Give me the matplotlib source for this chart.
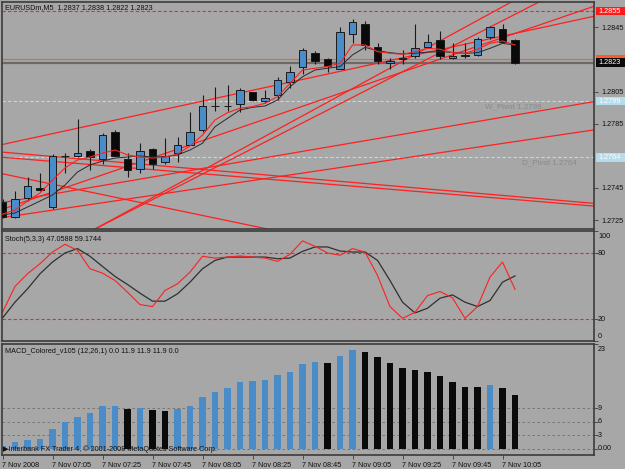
import numpy as np
import matplotlib.pyplot as plt
from matplotlib.patches import Rectangle

plt.rcParams['font.family'] = ['Liberation Sans', 'DejaVu Sans']

# EURUSDm M5 candles, 7 Nov 2008 06:45 .. 10:10
opens = [1.2736, 1.2727, 1.2739, 1.2745, 1.2733, 1.2765, 1.2765, 1.2768, 1.2763, 1.2780,
         1.2763, 1.2757, 1.2769, 1.2761, 1.2767, 1.2772, 1.2781, 1.2796, 1.2796, 1.2797,
         1.2805, 1.2799, 1.2803, 1.2811, 1.2820, 1.2829, 1.2825, 1.2819, 1.2841, 1.2847,
         1.2833, 1.2823, 1.2825, 1.2827, 1.2833, 1.2837, 1.2826, 1.2828, 1.2828, 1.2839,
         1.2844, 1.2837]
highs = [1.2738, 1.2743, 1.2752, 1.2754, 1.2766, 1.2767, 1.2788, 1.2769, 1.2779, 1.2781,
         1.2767, 1.2773, 1.2770, 1.2776, 1.2777, 1.2792, 1.2803, 1.2808, 1.2809, 1.2807,
         1.2805, 1.2806, 1.2814, 1.2821, 1.2832, 1.2830, 1.2826, 1.2845, 1.2850, 1.2849,
         1.2835, 1.2826, 1.2831, 1.2847, 1.2841, 1.2843, 1.2835, 1.2835, 1.2839, 1.2846,
         1.2847, 1.2838]
lows = [1.2726, 1.2726, 1.2737, 1.2743, 1.2732, 1.2754, 1.2764, 1.2756, 1.2760, 1.2764,
        1.2752, 1.2754, 1.2757, 1.2760, 1.2761, 1.2772, 1.2780, 1.2793, 1.2793, 1.2792,
        1.2799, 1.2798, 1.2800, 1.2807, 1.2816, 1.2822, 1.2817, 1.2819, 1.2835, 1.2831,
        1.2822, 1.2819, 1.2822, 1.2826, 1.2832, 1.2825, 1.2825, 1.2826, 1.2827, 1.2838,
        1.2835, 1.2822]
closes = [1.2727, 1.2738, 1.2746, 1.2744, 1.2765, 1.2765, 1.2767, 1.2764, 1.2778, 1.2765,
          1.2756, 1.2768, 1.2760, 1.2765, 1.2772, 1.2780, 1.2796, 1.2796, 1.2796, 1.2806,
          1.2800, 1.2801, 1.2812, 1.2817, 1.2831, 1.2824, 1.2821, 1.2842, 1.2848, 1.2834,
          1.2824, 1.2824, 1.2826, 1.2832, 1.2836, 1.2827, 1.2827, 1.2827, 1.2838, 1.2845,
          1.2836, 1.2823]

# moving averages (red fast, black slow)
ma_fast = [1.27287, 1.27312, 1.27368, 1.27418, 1.27499, 1.27574, 1.27624, 1.27642, 1.27667, 1.27686,
           1.27655, 1.27642, 1.27636, 1.27642, 1.27661, 1.27711, 1.27779, 1.27873, 1.27918, 1.27946,
           1.27956, 1.27977, 1.28018, 1.28101, 1.28184, 1.28195, 1.28205, 1.28226, 1.28340, 1.28340,
           1.28298, 1.28288, 1.28282, 1.28298, 1.28319, 1.28313, 1.28292, 1.28288, 1.28313, 1.28350,
           1.28365, 1.28340]
ma_slow = [1.27281, 1.27294, 1.27331, 1.27368, 1.27406, 1.27468, 1.27549, 1.27593, 1.27617, 1.27636,
           1.27642, 1.27649, 1.27642, 1.27644, 1.27655, 1.27686, 1.27728, 1.27831, 1.27883, 1.27935,
           1.27952, 1.27960, 1.27997, 1.28080, 1.28142, 1.28184, 1.28195, 1.28205, 1.28278, 1.28325,
           1.28304, 1.28292, 1.28284, 1.28288, 1.28296, 1.28298, 1.28294, 1.28288, 1.28292, 1.28319,
           1.28350, 1.28340]

# trendlines: (bar1, price1, bar2, price2)
trend_lines = [(-0.2, 1.27717, 47.4, 1.28520),
               (-0.2, 1.27356, 47.3, 1.27987),
               (-0.2, 1.27263, 47.3, 1.27811),
               (-0.2, 1.27674, 47.3, 1.27354),
               (-0.2, 1.27642, 47.3, 1.27337),
               (7.4, 1.27194, 43.24, 1.28620),
               (7.4, 1.27194, 41.0, 1.28620),
               (-0.2, 1.27312, 47.4, 1.28583),
               (-0.2, 1.27541, 21.2, 1.27194)]

pivot_names = ['W_Pivot 1.2799', 'D_Pivot 1.2764']
pivot_levels = [1.2799, 1.2764]
pivot_label_bar = [38.6, 41.6]
alert_level = 1.2855
order_level = 1.2825
bid = 1.2823

price_ticks = [1.2845, 1.2805, 1.2785, 1.2745, 1.2725]

# Stochastic (5,3,3)
stoch_main = [26.1, 49.6, 61.1, 70.3, 80.9, 87.9, 82.4, 65.7, 61.7, 55.0,
              44.4, 33.1, 31.3, 45.9, 52.0, 62.6, 77.0, 75.4, 76.3, 77.3,
              76.3, 75.4, 72.4, 78.8, 91.0, 86.1, 80.0, 77.9, 84.0, 80.9,
              59.6, 31.3, 20.6, 26.1, 41.3, 45.0, 39.2, 20.6, 31.3, 58.1,
              71.8, 47.06]
stoch_signal = [20.9, 35.3, 47.4, 61.1, 71.8, 80.0, 84.0, 77.0, 67.8, 58.7,
                51.4, 43.5, 36.2, 36.2, 42.9, 53.5, 65.7, 73.3, 76.3, 76.3,
                76.3, 76.3, 74.8, 75.4, 81.5, 85.5, 85.5, 81.8, 80.9, 80.9,
                73.3, 55.0, 35.3, 25.5, 29.8, 38.9, 41.9, 35.3, 31.3, 36.8,
                53.5, 59.17]

# MACD_Colored histogram
macd = [0.7, 1.6, 2.0, 2.2, 4.3, 5.9, 7.0, 8.0, 9.5, 9.5,
        8.8, 9.0, 8.6, 8.4, 8.8, 9.5, 11.4, 12.6, 13.4, 14.8,
        15.0, 15.2, 16.3, 17.0, 18.7, 19.1, 19.0, 20.4, 21.8, 21.4,
        20.3, 19.0, 17.9, 17.4, 17.0, 16.0, 14.8, 13.7, 13.6, 14.0,
        13.4, 11.9]

time_labels = ['7 Nov 2008', '7 Nov 07:05', '7 Nov 07:25', '7 Nov 07:45', '7 Nov 08:05',
               '7 Nov 08:25', '7 Nov 08:45', '7 Nov 09:05', '7 Nov 09:25', '7 Nov 09:45',
               '7 Nov 10:05']

BG = '#a7a7a7'
FRAME = '#3c3c3c'
BLUE = '#4a8cc8'
RED = '#ff2020'
FS = 5.2

fig = plt.figure(figsize=(6.25, 4.69), dpi=100, facecolor=BG)
W, H = 625.0, 469.0
L, R = 2, 594
ax = fig.add_axes([L / W, 1 - 229 / H, (R - L) / W, 227 / H])
ax2 = fig.add_axes([L / W, 1 - 341 / H, (R - L) / W, 110 / H])
ax3 = fig.add_axes([L / W, 1 - 455 / H, (R - L) / W, 111 / H])

xlim = ((L - 2.5) / 12.5, (R - 2.5) / 12.5)
for a in (ax, ax2, ax3):
    a.set_facecolor(BG)
    a.set_xlim(*xlim)
    for s in a.spines.values():
        s.set_color(FRAME)
        s.set_linewidth(1.2)
    a.yaxis.tick_right()
    a.tick_params(axis='y', length=3, width=0.6, color=FRAME, pad=2, labelsize=FS)
    a.tick_params(axis='x', bottom=False, labelbottom=False)

n = len(opens)
idx = np.arange(n)
o = np.array(opens)
c = np.array(closes)
hi = np.array(highs)
lo = np.array(lows)

# ---- main price panel
ax.set_ylim(1.271941, 1.286075)
ax.axhline(alert_level, color=RED, lw=0.8, ls=(0, (3, 2)), zorder=1)
for lv in pivot_levels:
    ax.axhline(lv, color='#b8dcea', lw=0.8, ls=(0, (3, 2)), zorder=1)
for name, lv, bx in zip(pivot_names, pivot_levels, pivot_label_bar):
    ax.annotate(name, xy=(bx, lv), xytext=(0, -2), textcoords='offset pixels',
                color='#8a8a8a', fontsize=5.8, va='top', ha='left', zorder=1)
ax.axhline(order_level, color='#ff5a2a', lw=0.8, zorder=1)
ax.axhline(bid, color='#6a6a6a', lw=1.6, zorder=1)

for x1, p1, x2, p2 in trend_lines:
    ax.plot([x1, x2], [p1, p2], color=RED, lw=0.9, zorder=2)

ax.plot(idx, ma_slow, color='#2a2a2a', lw=0.7, zorder=4)
ax.plot(idx, ma_fast, color=RED, lw=0.8, zorder=4)

ax.vlines(idx, lo, hi, color='#1a1a1a', lw=0.8, zorder=3)
up = c >= o
ax.bar(idx[up], (c - o)[up], bottom=o[up], width=0.6, color=BLUE,
       edgecolor='#1a1a1a', linewidth=0.7, zorder=3)
ax.bar(idx[~up], (o - c)[~up], bottom=c[~up], width=0.6, color='#0a0a0a',
       edgecolor='#1a1a1a', linewidth=0.7, zorder=3)

ax.set_yticks(price_ticks)
ax.set_yticklabels(['%.4f' % p for p in price_ticks], color='#101010')

# price boxes on the right scale (the order box sits under the bid box)
yt = ax.get_yaxis_transform()
bh = 0.00052
boxes = [(alert_level, '#ff1a1a', True), (order_level, '#ff5a2a', False), (bid, '#0a0a0a', True),
         (pivot_levels[0], '#b4dcea', True), (pivot_levels[1], '#b4dcea', True)]
for k, (lv, fc, show) in enumerate(boxes):
    z = 5 + k * 0.2
    ax.add_patch(Rectangle((1.003, lv - bh / 2), 0.05, bh, transform=yt, facecolor=fc,
                           edgecolor='none', clip_on=False, zorder=z))
    if show:
        ax.text(1.008, lv, '%.4f' % lv, transform=yt, color='white', fontsize=FS,
                va='center', ha='left', clip_on=False, zorder=z + 0.1)

ax.text(3 / (R - L), 1 - 5.5 / 227, 'EURUSDm,M5  1.2837 1.2838 1.2822 1.2823',
        transform=ax.transAxes, fontsize=FS, color='#101010', va='center', ha='left')

# ---- stochastic panel
ax2.set_ylim(0, 100)
for lv in (80, 20):
    ax2.axhline(lv, color=RED, lw=0.8, ls=(0, (3, 2)))
ax2.plot(idx, stoch_signal, color='#303030', lw=0.9)
ax2.plot(idx, stoch_main, color=RED, lw=0.8)
ax2.set_yticks([100, 80, 20, 0])
ax2.set_yticklabels([])
yt2 = ax2.get_yaxis_transform()
for v, dy in [(100, -5), (80, 0), (20, 0), (0, 5)]:
    ax2.annotate(str(v), xy=(1, v), xycoords=yt2, xytext=(4, dy), textcoords='offset pixels',
                 fontsize=FS, color='#101010', va='center', ha='left', annotation_clip=False)
ax2.text(3 / (R - L), 1 - 8.5 / 110, 'Stoch(5,3,3) 47.0588 59.1744', transform=ax2.transAxes,
         fontsize=FS, color='#101010', va='center', ha='left')

# ---- MACD panel
ax3.set_ylim(-1.32, 23.08)
for lv in (9, 6, 3, 0):
    ax3.axhline(lv, color='#6e6e6e', lw=0.6, ls=(0, (3, 3)), zorder=1)
m = np.array(macd)
falling = np.r_[False, m[1:] < m[:-1]]
ax3.bar(idx, m, width=0.55, color=np.where(falling, '#0a0a0a', BLUE), zorder=2)
ax3.set_yticks([23, 9, 6, 3, 0])
ax3.set_yticklabels([])
yt3 = ax3.get_yaxis_transform()
for lab, v, dy in [('23', 23, -5), ('9', 9, 0), ('6', 6, 0), ('3', 3, 0), ('0.00', 0, 0)]:
    ax3.annotate(lab, xy=(1, v), xycoords=yt3, xytext=(4, dy), textcoords='offset pixels',
                 fontsize=FS, color='#101010', va='center', ha='left', annotation_clip=False)
ax3.text(3 / (R - L), 1 - 7.5 / 111, 'MACD_Colored_v105 (12,26,1) 0.0 11.9 11.9 11.9 0.0',
         transform=ax3.transAxes, fontsize=FS, color='#101010', va='center', ha='left')
ax3.text(1 / (R - L), 6 / 111, '\u25b6Interbank FX Trader 4, \u00a9 2001-2008 MetaQuotes Software Corp.',
         transform=ax3.transAxes, fontsize=FS, color='#101010', va='center', ha='left', zorder=5)

tick_bars = np.arange(0, n, 4)
ax3.set_xticks(tick_bars)
ax3.set_xticklabels(time_labels, fontsize=FS, color='#101010', ha='left')
ax3.tick_params(axis='x', bottom=True, labelbottom=True, length=3, width=0.6,
                color=FRAME, pad=2)

fig.savefig('out.png', dpi=100, facecolor=BG)
